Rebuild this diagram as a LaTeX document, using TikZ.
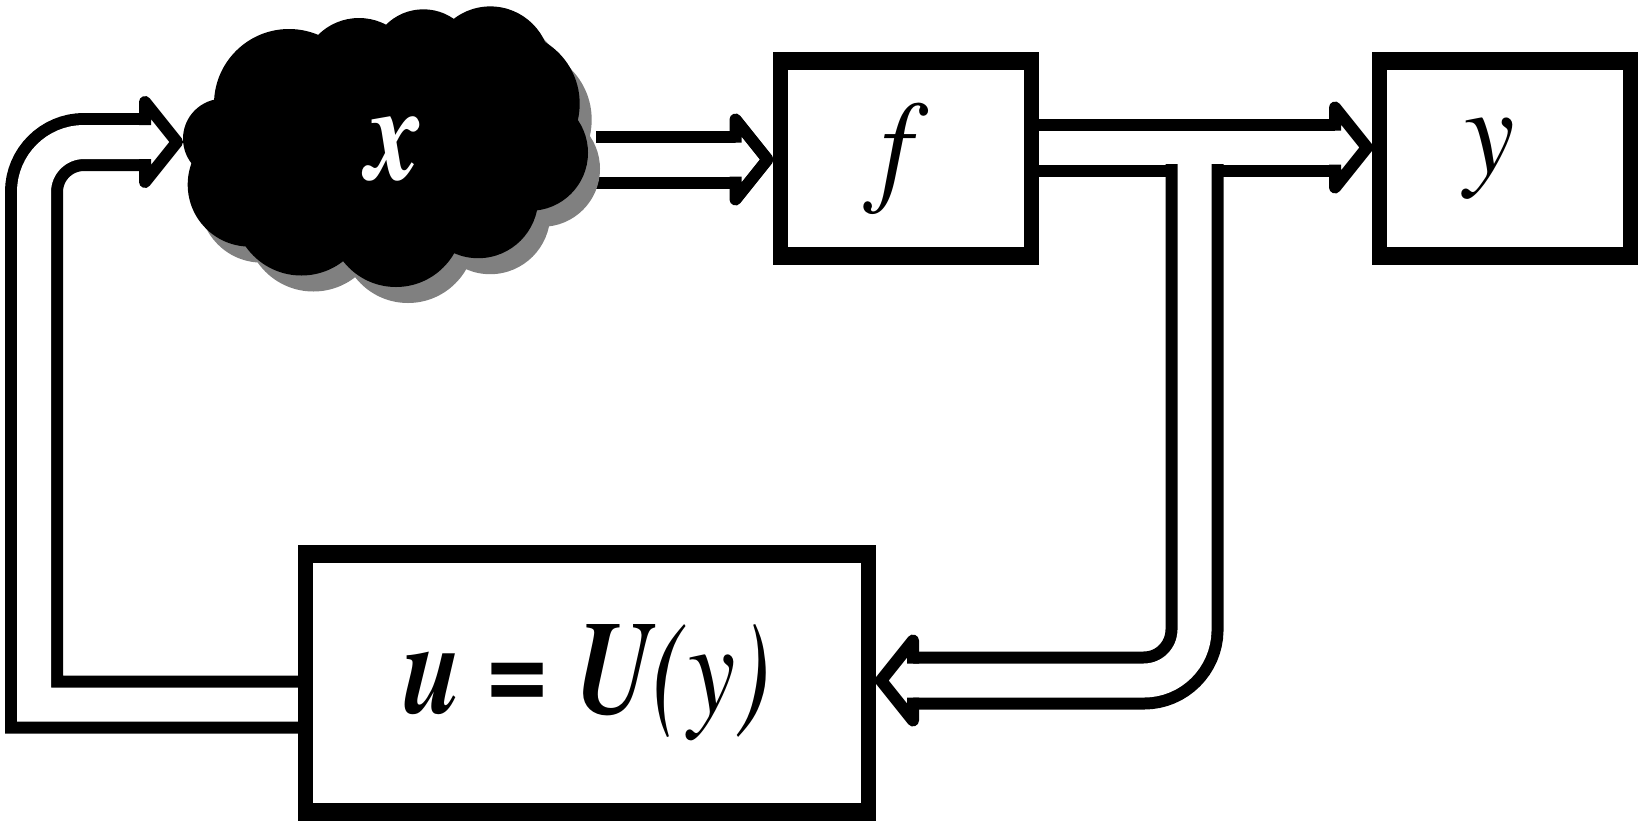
\documentclass[tikz,border=0pt]{standalone}
\usepackage{fontspec}
\setmainfont{texgyretermes}[Extension=.otf, UprightFont=*-regular, BoldFont=*-bold, ItalicFont=*-italic, BoldItalicFont=*-bolditalic]
\usetikzlibrary{calc,backgrounds}
\tikzset{
  blk/.style={draw=black, line width=15pt, fill=white, inner sep=0pt},
  dbl/.style={draw=black, line width=12pt, double=white, double distance=34pt, line cap=butt, line join=miter},
  hhead/.pic={
    \fill[white] (0,-40) -- (32,0) -- (0,40) -- cycle;
    \draw[line width=12pt, line join=round, line cap=rect] (0,-23) -- (0,-40) -- (32,0) -- (0,40) -- (0,23);
  },
  lbl/.style={inner sep=0pt}
}
\begin{document}
\begin{tikzpicture}[x=1pt,y=-1pt]
\useasboundingbox (0,0) rectangle (1639,823);
% cloud: shadow then body
\def\bumps{223/138.7/40, 289/104/75, 359/76/58, 423.4/62.3/53, 490.3/66.4/60, 507.7/103.7/72, 530/152.8/58, 478.2/198.2/60, 396/220/67, 301.4/207.5/68, 249.7/184.6/62}
\foreach \cx/\cy/\r in \bumps
  {\fill[black!50] (\cx+12,\cy+16) circle[radius=\r];}
\fill[black!50] (402,166) ellipse[x radius=160, y radius=95];
\foreach \cx/\cy/\r in \bumps
  {\fill[black] (\cx,\cy) circle[radius=\r];}
\fill[black] (390,150) ellipse[x radius=160, y radius=95];
\node[lbl, text=white] (cloud) at (395,149) {\fontsize{136}{140}\selectfont\bfseries\itshape\scalebox{0.82}[1]{x}};
% boxes
\node[blk, minimum width=251pt, minimum height=198pt] (f) at (905.5,158.5) {\fontsize{126}{130}\selectfont\itshape\scalebox{0.9}[1]{f}\hspace*{18pt}};
\node[blk, minimum width=251pt, minimum height=198pt] (y) at (1505,158.5) {\fontsize{126}{130}\selectfont\itshape\scalebox{0.9}[1]{y}\hspace*{30pt}};
\node[blk, minimum width=563pt, minimum height=261pt] (U) at (587,683) {\fontsize{133}{140}\selectfont\scalebox{0.8}[1]{\bfseries\itshape u = U\mdseries(y)}};
% thicker top and bottom borders
\foreach \n in {f,y,U} {
  \fill ($(\n.north west)+(0,13)$) rectangle ($(\n.north east)+(0,18)$);
  \fill ($(\n.south west)+(0,-13)$) rectangle ($(\n.south east)+(0,-18)$);
}
% connectors
\begin{scope}[on background layer]
  \coordinate (cE) at ($(cloud)+(201,10.5)$);
  \coordinate (fin) at ($(f.west)+(-37,1)$);
  \draw[dbl] (cE) -- (fin);
  \pic at (fin) {hhead};
  \coordinate (fo) at ($(f.east)+(0,-11)$);
  \coordinate (yin) at ($(y.west)+(-37,-11)$);
  \draw[dbl] (fo) -- (yin);
  \pic at (yin) {hhead};
  \coordinate (br0) at ($(f.east)+(156,5.5)$);
  \coordinate (Uin) at ($(U.east)+(37,-2.5)$);
  \draw[dbl] (br0) -- (br0 |- 0,630.5) .. controls (1194,658.1) and (1171.6,680.5) .. (1144,680.5) -- (Uin);
  \pic[rotate=180] at (Uin) {hhead};
  \coordinate (Uo) at ($(U.west)+(0,21.5)$);
  \coordinate (cin) at ($(cloud)+(-250,-7)$);
  \draw[dbl] (Uo) -- (34,704.5) -- (34,192) .. controls (34,164.4) and (56.4,142) .. (84,142) -- (cin);
  \pic at (cin) {hhead};
\end{scope}
\end{tikzpicture}
\end{document}
